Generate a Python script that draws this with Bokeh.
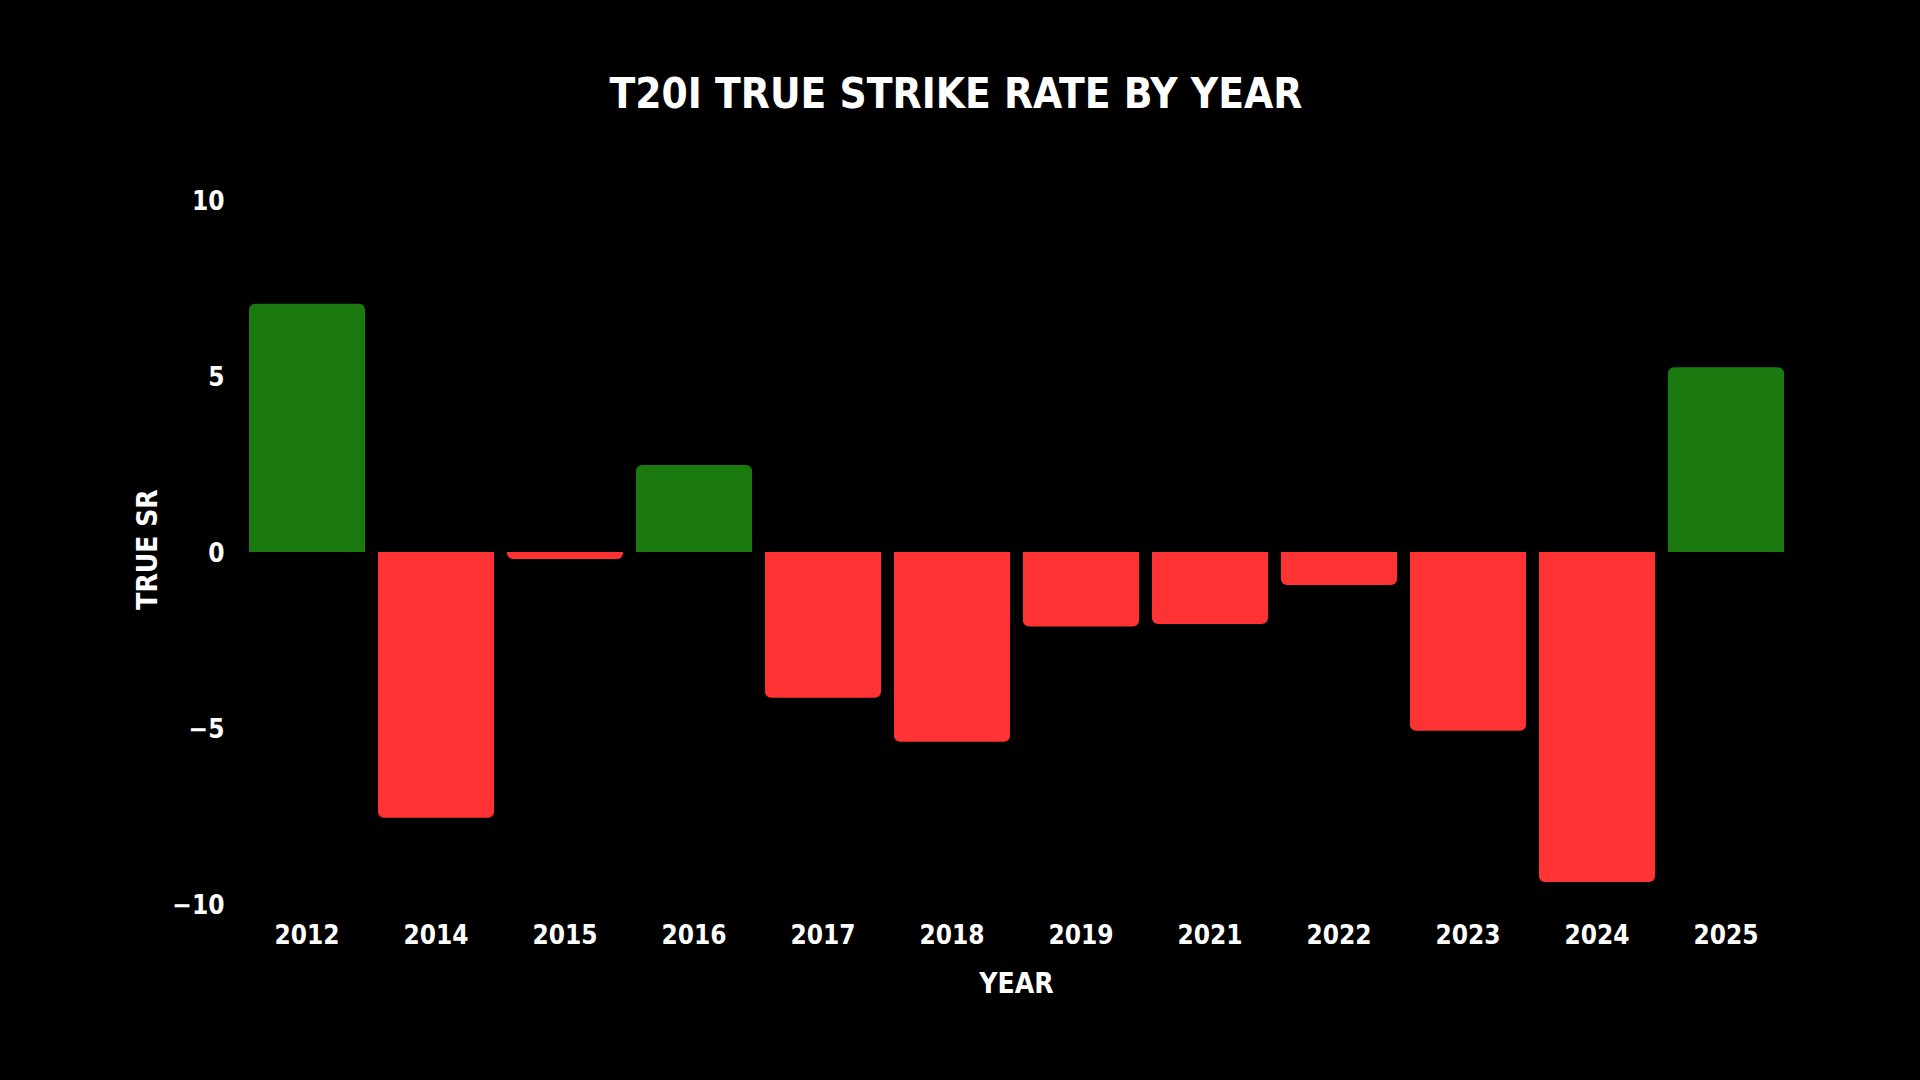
from bokeh.plotting import figure
from bokeh.models import Range1d, FactorRange, ColumnDataSource, FixedTicker
from bokeh.embed import file_html
from bokeh.resources import INLINE

years = ["2012", "2014", "2015", "2016", "2017", "2018", "2019", "2021", "2022", "2023", "2024", "2025"]
true_sr = [7.05, -7.55, -0.2, 2.47, -4.14, -5.39, -2.12, -2.05, -0.94, -5.08, -9.38, 5.25]
y_ticks = [-10, -5, 0, 5, 10]
title_text = "T20I TRUE STRIKE RATE BY YEAR"

POS = "#1a7a10"
NEG = "#ff3333"
FONT = "DejaVu Sans Condensed"

pos_src = ColumnDataSource(dict(x=[y for y, v in zip(years, true_sr) if v >= 0],
                                top=[v for v in true_sr if v >= 0]))
neg_src = ColumnDataSource(dict(x=[y for y, v in zip(years, true_sr) if v < 0],
                                bottom=[v for v in true_sr if v < 0]))

p = figure(width=1920, height=1080, x_range=FactorRange(factors=years),
           y_range=Range1d(-10.3, 10.44), output_backend="svg", toolbar_location=None,
           background_fill_color="black", border_fill_color="black",
           min_border_left=242, min_border_right=130, min_border_bottom=166, min_border_top=100)
p.styles = {"background-color": "black"}
p.outline_line_color = "black"
p.outline_line_width = 3
p.xgrid.grid_line_color = None
p.ygrid.grid_line_color = None

p.vbar(x="x", top="top", bottom=0, width=0.9, source=pos_src, fill_color=POS, line_color=None,
       border_radius=(6, 6, 0, 0))
p.vbar(x="x", top=0, bottom="bottom", width=0.9, source=neg_src, fill_color=NEG, line_color=None,
       border_radius=(0, 0, 6, 6))

p.title.text = title_text
p.title.align = "left"
p.title.offset = 367
p.title.standoff = 133
p.title.text_color = "white"
p.title.text_font = FONT
p.title.text_font_style = "bold"
p.title.text_font_size = "42px"

for ax in (p.xaxis, p.yaxis):
    ax.axis_line_color = None
    ax.major_tick_line_color = None
    ax.minor_tick_line_color = None
    ax.major_tick_out = 0
    ax.major_tick_in = 0
    ax.major_label_text_color = "white"
    ax.major_label_text_font = FONT
    ax.major_label_text_font_style = "bold"
    ax.major_label_text_font_size = "26px"
    ax.axis_label_text_color = "white"
    ax.axis_label_text_font = FONT
    ax.axis_label_text_font_style = "bold"
    ax.axis_label_text_font_size = "28px"

p.yaxis.ticker = FixedTicker(ticks=y_ticks)
p.yaxis.major_label_standoff = 18
p.yaxis.axis_label = "TRUE SR"
p.yaxis.axis_label_standoff = 5
p.xaxis.major_label_standoff = 9
p.xaxis.axis_label = "YEAR"
p.xaxis.axis_label_standoff = 20

open("out.html", "w").write(file_html(p, INLINE))
